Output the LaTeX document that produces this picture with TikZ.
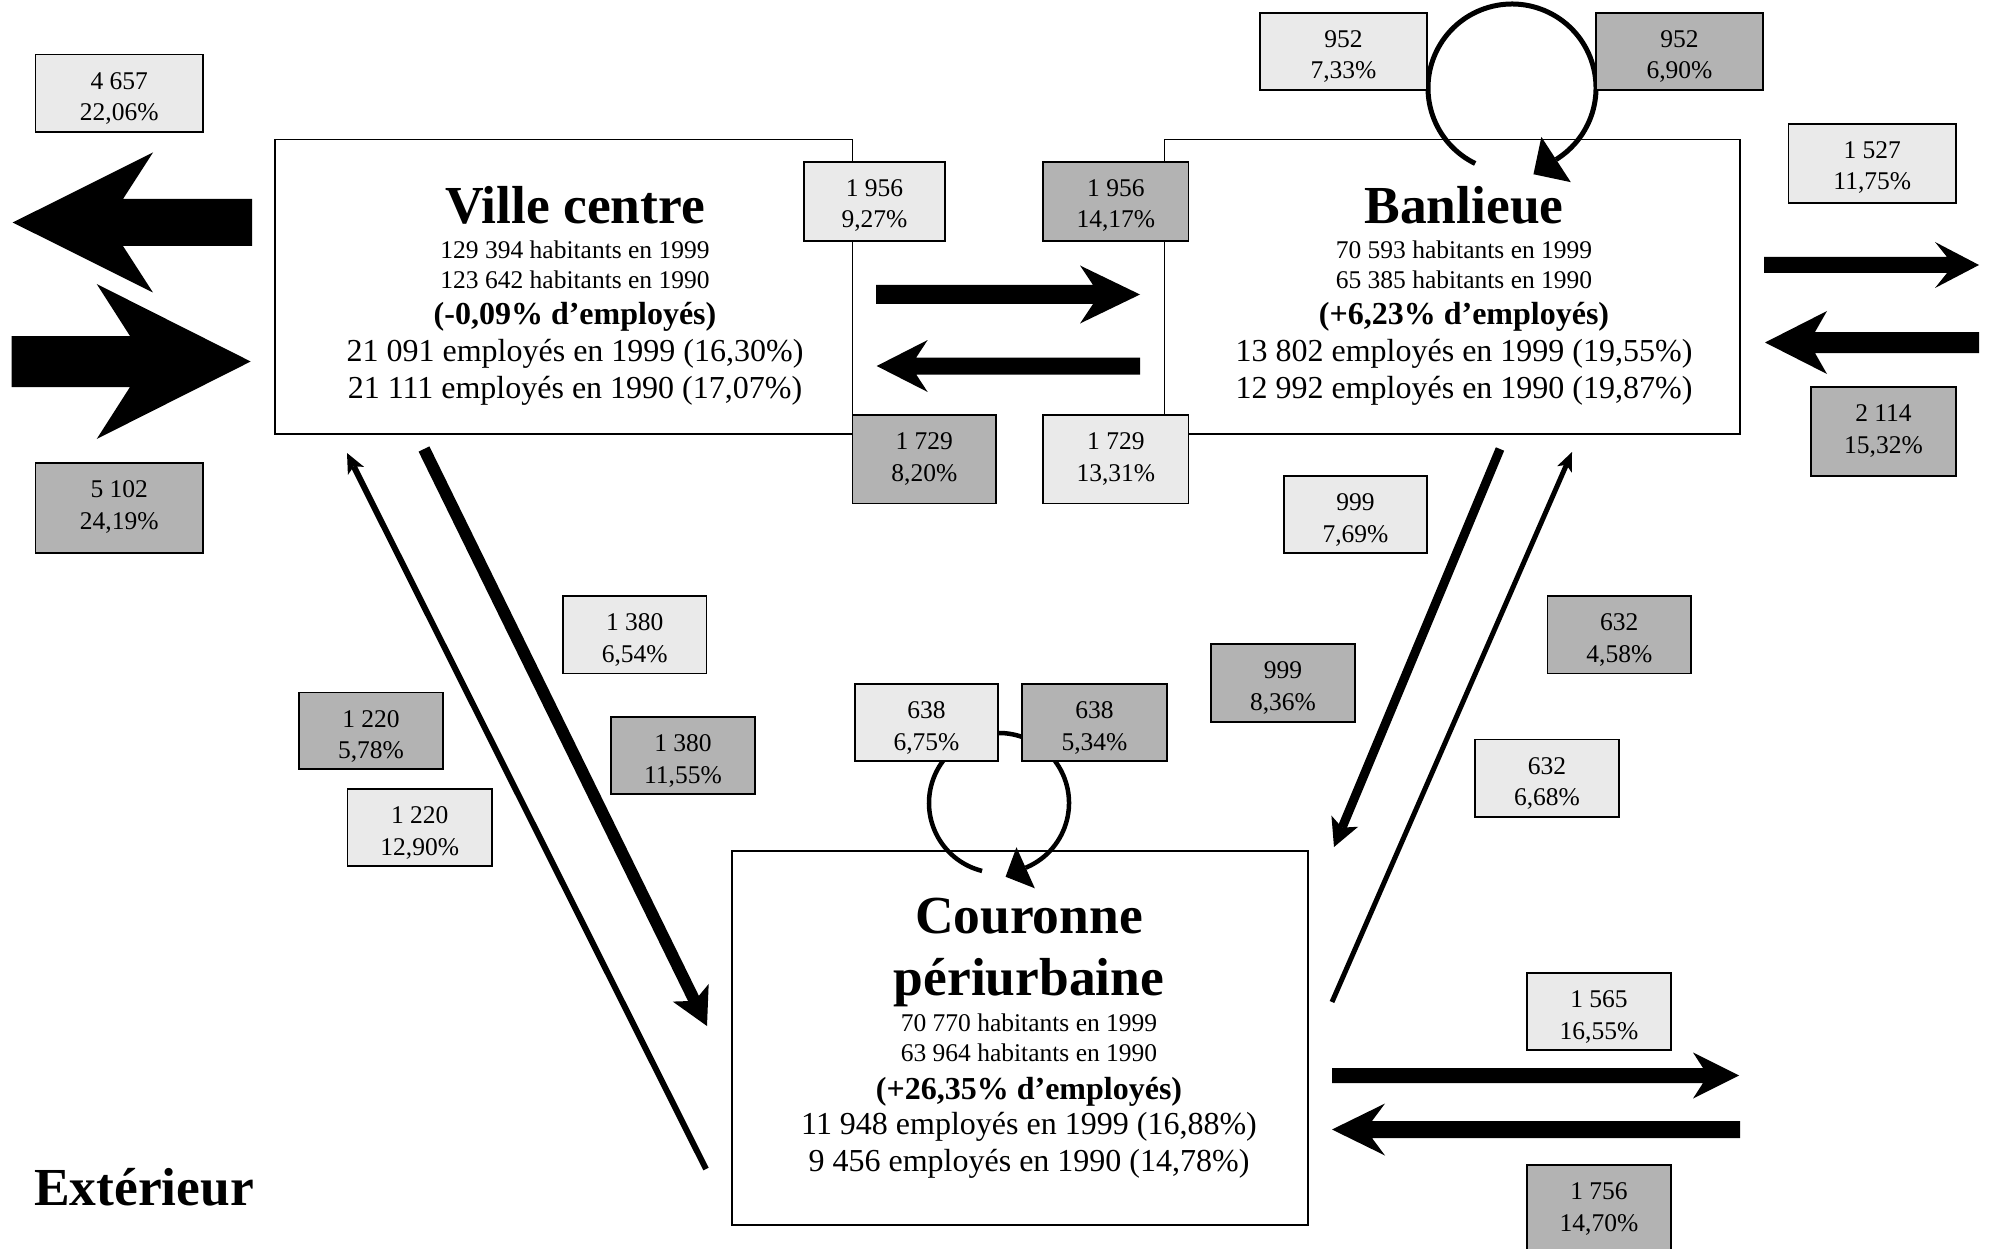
\documentclass[tikz,border=0pt]{standalone}
\usepackage{fontspec}
\setmainfont{Liberation Serif}
\usetikzlibrary{arrows.meta,calc}
\definecolor{flowlight}{HTML}{EAEAEA}
\definecolor{flowdark}{HTML}{B3B3B3}

% Horizontal block arrow drawn as a filled outline.
% #1 tail, #2 tip, #3 direction (1 = right, -1 = left),
% #4 half shaft width, #5 half head width, #6 head length, #7 notch depth
\newcommand\hblock[7]{%
  \fill (#2) -- ($(#2)+({-(#3)*(#6)},{-(#5)})$)
    -- ($(#2)+({(#3)*((#7)-(#6))},{-(#4)})$)
    -- ($(#1)+(0,{-(#4)})$) -- ($(#1)+(0,{#4})$)
    -- ($(#2)+({(#3)*((#7)-(#6))},{#4})$)
    -- ($(#2)+({-(#3)*(#6)},{#5})$) -- cycle;}

% Flow label: style, name, x, y, width, height, text.
% The text keeps a fixed distance from the top edge whatever the box height.
\newcommand\flowlabel[7]{%
  \pgfmathsetmacro\lblth{136-#6}%
  \node[#1,minimum width=#5pt,minimum height=#6pt,text height=\lblth pt,text depth=4pt] (#2) at (#3,#4) {#7};}

\begin{document}
\begin{tikzpicture}[x=1pt,y=-1pt,
  zone/.style={draw,line width=1.6pt,rectangle,inner sep=0pt},
  lbl/.style={draw,line width=1.8pt,rectangle,inner sep=0pt,align=center,
    font=\fontsize{25.5}{31.5}\selectfont},
  lbllight/.style={lbl,fill=flowlight},
  lbldark/.style={lbl,fill=flowdark},
  ttl/.style={anchor=base,inner sep=0pt,font=\bfseries\fontsize{53.5}{60}\selectfont},
  sml/.style={anchor=base,inner sep=0pt,font=\fontsize{25.5}{30}\selectfont},
  bld/.style={anchor=base,inner sep=0pt,font=\bfseries\fontsize{32}{36}\selectfont},
  big/.style={anchor=base,inner sep=0pt,font=\fontsize{32}{36}\selectfont},
  heavyflow/.style={line width=12pt,-{Stealth[length=37pt,width=40pt,inset=9pt,line width=0pt]}},
  midflow/.style={line width=9pt,-{Stealth[length=28pt,width=29pt,inset=7pt,line width=0pt]}},
  lightflow/.style={line width=6pt,-{Stealth[length=20pt,width=18pt,inset=5pt,line width=0pt]}},
  thinflow/.style={line width=5pt,-{Stealth[length=19pt,width=16pt,inset=5pt,line width=0pt]}}
]
\useasboundingbox (0,0) rectangle (1989,1249);

% ---- zones ----
\node[zone,minimum width=577.5pt,minimum height=294.5pt] (ville) at (563.75,286.75) {};
\node[zone,minimum width=575.5pt,minimum height=294.5pt] (banl) at (1452.25,286.75) {};
\node[zone,minimum width=576pt,minimum height=374pt] (cour) at (1020,1038) {};

% ---- zone texts ----
\node[ttl] (villeT) at (575,224) {Ville centre};
\node[sml] (villeA) at (575,258.3) {129 394 habitants en 1999};
\node[sml] (villeB) at (575,288.3) {123 642 habitants en 1990};
\node[bld] (villeC) at (575,324.5) {(-0,09\% d’employés)};
\node[big] (villeD) at (575,361.7) {21 091 employés en 1999 (16,30\%)};
\node[big] (villeE) at (575,398.3) {21 111 employés en 1990 (17,07\%)};

\node[ttl] (banlT) at (1464,224) {Banlieue};
\node[sml] (banlA) at (1464,258.3) {70 593 habitants en 1999};
\node[sml] (banlB) at (1464,288.3) {65 385 habitants en 1990};
\node[bld] (banlC) at (1464,324.5) {(+6,23\% d’employés)};
\node[big] (banlD) at (1464,361.7) {13 802 employés en 1999 (19,55\%)};
\node[big] (banlE) at (1464,398.3) {12 992 employés en 1990 (19,87\%)};

\node[ttl] (courT) at (1029,933.3) {Couronne};
\node[ttl] (courU) at (1029,995.5) {périurbaine};
\node[sml] (courA) at (1029,1031.7) {70 770 habitants en 1999};
\node[sml] (courB) at (1029,1061) {63 964 habitants en 1990};
\node[bld] (courC) at (1029,1099) {(+26,35\% d’employés)};
\node[big] (courD) at (1029,1134) {11 948 employés en 1999 (16,88\%)};
\node[big] (courE) at (1029,1171) {9 456 employés en 1990 (14,78\%)};

\node[anchor=base west,inner sep=0pt,font=\bfseries\fontsize{53.5}{60}\selectfont] (ext) at (34,1205) {Extérieur};

% ---- horizontal flows ----
\coordinate (aTail) at (252,222.5);   \coordinate (aTip) at (12.7,222.5);
\coordinate (bTail) at (11.7,361.5);  \coordinate (bTip) at (250.7,361.5);
\coordinate (cTail) at (876,294.5);   \coordinate (cTip) at (1140,294.5);
\coordinate (dTail) at (1140,366);    \coordinate (dTip) at (876.7,366);
\coordinate (eTail) at (1764,265);    \coordinate (eTip) at (1979,265);
\coordinate (fTail) at (1979,342.5);  \coordinate (fTip) at (1765,342.5);
\coordinate (gTail) at (1332,1075.5); \coordinate (gTip) at (1739,1075.5);
\coordinate (hTail) at (1740,1129.5); \coordinate (hTip) at (1332,1129.5);
\hblock{aTail}{aTip}{-1}{23.5}{70}{140.3}{30}
\hblock{bTail}{bTip}{1}{25.5}{77.5}{154}{33.3}
\hblock{cTail}{cTip}{1}{9.5}{29}{60}{13}
\hblock{dTail}{dTip}{-1}{8.5}{26}{51}{11.5}
\hblock{eTail}{eTip}{1}{8}{23}{44}{12}
\hblock{fTail}{fTip}{-1}{10.5}{31.5}{62}{12}
\hblock{gTail}{gTip}{1}{7.5}{23}{46}{10}
\hblock{hTail}{hTip}{-1}{8.5}{26}{53}{13}

% ---- diagonal flows ----
\coordinate (iTail) at (424,449);  \coordinate (iTip) at (707,1026);
\coordinate (jTail) at (706,1169); \coordinate (jTip) at (347,453);
\coordinate (kTail) at (1500,449); \coordinate (kTip) at (1334,847);
\coordinate (lTail) at (1332,1002); \coordinate (lTip) at (1572,452);
\draw[heavyflow] (iTail) -- (iTip);
\draw[lightflow] (jTail) -- (jTip);
\draw[midflow] (kTail) -- (kTip);
\draw[thinflow] (lTail) -- (lTip);

% ---- internal loops ----
\coordinate (bLoop) at (1512,88);
\draw[line width=5pt,-{Triangle[length=27pt,width=54pt,line width=0pt]}]
  ($(bLoop)+(116:84)$) arc[start angle=116,end angle=417,radius=84]
  -- ($(bLoop)+(57:84)+(-24.3,15.8)$);
\coordinate (cLoop) at (999,803);
\draw[line width=4.5pt,-{Triangle[length=22pt,width=45pt,line width=0pt]}]
  ($(cLoop)+(104:70)$) arc[start angle=104,end angle=426,radius=70]
  -- ($(cLoop)+(66:70)+(-21.9,9.8)$);

% ---- flow labels ----
\flowlabel{lbllight}{q01}{119.3}{93.3}{167.5}{77.5}{4 657\\22,06\%}
\flowlabel{lbldark}{q02}{119.3}{508}{167.5}{90}{5 102\\24,19\%}
\flowlabel{lbllight}{q03}{874.5}{201.5}{141}{79}{1 956\\9,27\%}
\flowlabel{lbldark}{q04}{1115.8}{201.5}{145.5}{79}{1 956\\14,17\%}
\flowlabel{lbldark}{q05}{924.3}{459.3}{143.5}{88.5}{1 729\\8,20\%}
\flowlabel{lbllight}{q06}{1115.8}{459.3}{145.5}{88.5}{1 729\\13,31\%}
\flowlabel{lbllight}{q07}{1343.5}{51.4}{167}{77.3}{952\\7,33\%}
\flowlabel{lbldark}{q08}{1679.5}{51.4}{167}{77.3}{952\\6,90\%}
\flowlabel{lbllight}{q09}{1872.3}{163.5}{167.5}{79}{1 527\\11,75\%}
\flowlabel{lbldark}{q10}{1883.5}{431.5}{145}{89}{2 114\\15,32\%}
\flowlabel{lbllight}{q11}{1355.5}{514.5}{143}{77}{999\\7,69\%}
\flowlabel{lbldark}{q12}{1283}{683}{144}{78}{999\\8,36\%}
\flowlabel{lbldark}{q13}{1619.3}{634.8}{143.5}{77.5}{632\\4,58\%}
\flowlabel{lbllight}{q14}{1547}{778.3}{144}{77.5}{632\\6,68\%}
\flowlabel{lbllight}{q15}{634.8}{634.8}{143.5}{77.5}{1 380\\6,54\%}
\flowlabel{lbldark}{q16}{683}{755.5}{144}{77}{1 380\\11,55\%}
\flowlabel{lbldark}{q17}{371}{730.8}{144}{76.5}{1 220\\5,78\%}
\flowlabel{lbllight}{q18}{419.8}{827.5}{144.5}{77}{1 220\\12,90\%}
\flowlabel{lbllight}{q19}{926.5}{722.5}{143}{77}{638\\6,75\%}
\flowlabel{lbldark}{q20}{1094.5}{722.5}{145}{77}{638\\5,34\%}
\flowlabel{lbllight}{q21}{1599}{1011.5}{144}{77}{1 565\\16,55\%}
\flowlabel{lbldark}{q22}{1599}{1215}{144}{100}{1 756\\14,70\%}
\end{tikzpicture}
\end{document}
